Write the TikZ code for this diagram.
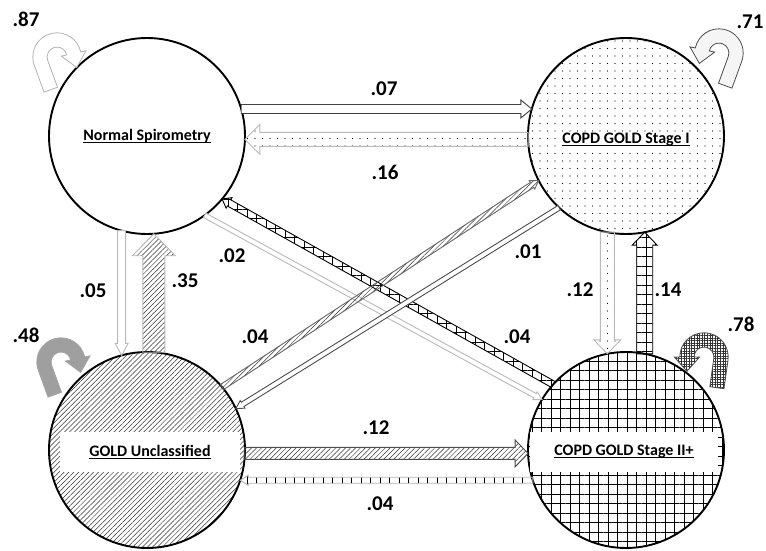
\documentclass[tikz,border=0pt]{standalone}
\usepackage{fontspec}
\setmainfont{Carlito}
\usetikzlibrary{calc,patterns.meta}

% curled self-transition arrow, drawn in pixel units
\tikzset{
  uturn/.pic={
    \draw[pic actions] (180:22) -- ++(0,26) -- ++(13,0) -- (180:9)
      arc[start angle=180,end angle=368,radius=9] -- (368:4)
      -- ($(368:15.5)+(458:13)$) -- (368:27) -- (368:22)
      arc[start angle=368,end angle=180,radius=22] -- cycle;
  }
}

% block arrow: [style]{from}{to}{half width}{head half width}{head length}
\newcommand{\blockarrow}[6][]{%
  \coordinate (ba-h) at ($(#3)!#6!(#2)$);
  \draw[line width=0.9pt,#1] ($(#2)!#4!90:(#3)$) -- ($(ba-h)!#4!90:(#3)$)
    -- ($(ba-h)!#5!90:(#3)$) -- (#3) -- ($(ba-h)!#5!-90:(#3)$)
    -- ($(ba-h)!#4!-90:(#3)$) -- ($(#2)!#4!-90:(#3)$) -- cycle;
}

% underlined state name
\newcommand{\ulabel}[1]{\setbox0\hbox{#1}\leavevmode\rlap{\rule[-2.6pt]{\wd0}{1.1pt}}\box0}

\begin{document}
\begin{tikzpicture}[x=1pt, y=-1pt,
  state/.style={circle, draw, line width=1.9pt, minimum size=196pt, inner sep=0pt, outer sep=0pt},
  statetext/.style={font=\fontsize{16}{18}\selectfont\bfseries, inner sep=1pt},
  prob/.style={font=\fontsize{21}{22}\selectfont\bfseries},
  s1fill/.style={pattern={Dots[distance=7.5pt,radius=0.7pt]}},
  gufill/.style={pattern={Lines[angle=45,distance=3.5pt,line width=0.5pt]}, pattern color=black!80},
  s2fill/.style={pattern={Hatch[distance=9.5pt,line width=0.9pt]}},
  loop/.style={line width=0.8pt, scale=1.1},
]
\useasboundingbox (0,0) rectangle (766,551);

% states
\node[state, fill=white] (ns) at (147,136) {};
\node[state, s1fill] (s1) at (626,136) {};
\node[state, gufill] (gu) at (147,450) {};
\node[state, s2fill] (s2) at (626,450) {};

\node[statetext] (t-ns) at (147,136) {\ulabel{Normal Spirometry}};
\node[statetext, fill=white] (t-s1) at (626,140) {\ulabel{COPD GOLD Stage I}};
\node[statetext, fill=white, minimum width=180pt, minimum height=40pt] (t-gu) at (150,452) {\ulabel{GOLD Unclassified}};
\node[statetext, fill=white, minimum width=188pt, minimum height=40pt] (t-s2) at (624,452) {\ulabel{COPD GOLD Stage II+}};

% transitions
\blockarrow[draw=black!75, fill=white]{ns.16}{s1.164}{4.5pt}{9pt}{11pt}
\blockarrow[draw=gray!55, s1fill]{s1.182}{ns.-2}{7pt}{15pt}{15pt}
\blockarrow[draw=gray!55, fill=white]{ns.255}{gu.105}{4pt}{6.5pt}{12pt}
\blockarrow[draw=gray!55, gufill]{gu.86}{ns.274}{11pt}{21.5pt}{22pt}
\blockarrow[draw=gray!55, s1fill]{s1.259}{s2.101}{7pt}{13.5pt}{14pt}
\blockarrow[draw=black, s2fill]{s2.79}{s1.281}{8pt}{12.5pt}{13pt}
\blockarrow[draw=black!70, gufill]{gu.-2}{s2.182}{6pt}{13.5pt}{13pt}
\blockarrow[draw=gray!60, s2fill]{s2.198}{gu.-18}{3pt}{5pt}{8pt}
\blockarrow[draw=gray!55, fill=white]{ns.-54}{s2.149}{2.5pt}{4.5pt}{8pt}
\blockarrow[draw=black, s2fill]{s2.138}{ns.-40}{3.5pt}{6pt}{8pt}
\blockarrow[draw=black!60, gufill]{gu.40}{s1.207}{3pt}{5pt}{8pt}
\blockarrow[draw=black!70, fill=white]{s1.227}{gu.25}{2.5pt}{4.5pt}{8pt}

% self transitions
\pic[loop, draw=gray!60, fill=white, rotate=20] at (57,57) {uturn};
\pic[loop, draw=black!70, pattern={Dots[distance=2pt,radius=0.45pt]}, pattern color=gray, xscale=-1, rotate=20] at (719,53) {uturn};
\pic[loop, draw=gray!70, fill=gray!75, rotate=20] at (61,362) {uturn};
\pic[loop, draw=black!70, pattern={Hatch[distance=2.6pt,line width=0.3pt]}, pattern color=black!80, xscale=-1, rotate=8] at (704,357) {uturn};

% probabilities
\node[prob] (p-ns) at (26,19) {.87};
\node[prob] (p-s1) at (750,22) {.71};
\node[prob] (p-gu) at (26,335) {.48};
\node[prob] (p-s2) at (741,324) {.78};
\node[prob] (p-ns-s1) at (384,89) {.07};
\node[prob] (p-s1-ns) at (385,172) {.16};
\node[prob] (p-ns-gu) at (93,291) {.05};
\node[prob] (p-gu-ns) at (185,281) {.35};
\node[prob] (p-ns-s2) at (232,256) {.02};
\node[prob] (p-s1-gu) at (528,252) {.01};
\node[prob] (p-gu-s1) at (255,337) {.04};
\node[prob] (p-s2-ns) at (517,337) {.04};
\node[prob] (p-s1-s2) at (580,290) {.12};
\node[prob] (p-s2-s1) at (668,290) {.14};
\node[prob] (p-gu-s2) at (376,428) {.12};
\node[prob] (p-s2-gu) at (380,504) {.04};
\end{tikzpicture}
\end{document}
